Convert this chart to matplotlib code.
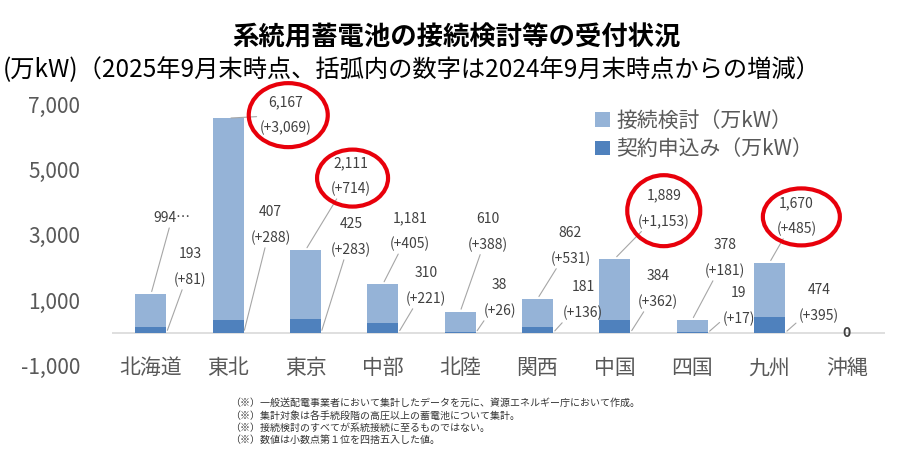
import matplotlib
matplotlib.use('Agg')
import matplotlib.pyplot as plt
from matplotlib.patches import Ellipse
from matplotlib.transforms import IdentityTransform

plt.rcParams['font.family'] = ['Noto Sans CJK JP', 'DejaVu Sans']

# data (万kW)
regions = ['北海道', '東北', '東京', '中部', '北陸', '関西', '中国', '四国', '九州', '沖縄']
study = [994, 6167, 2111, 1181, 610, 862, 1889, 378, 1670, 0]          # 接続検討
study_diff = [None, 3069, 714, 405, 388, 531, 1153, 181, 485, 0]
contract = [193, 407, 425, 310, 38, 181, 384, 19, 474, 0]              # 契約申込み
contract_diff = [81, 288, 283, 221, 26, 136, 362, 17, 395, 0]
yticks = [-1000, 1000, 3000, 5000, 7000]
highlighted = ['東北', '東京', '中国', '九州']

# label offsets in pixels (dx, dy up) from bar top / bar bottom-right
study_off = [(21, 76), (57, 3), (45, 74), (27, 53), (28, 80), (33, 53), (49, 50), (33, 62), (27, 47)]
contract_off = [(24, 66), (27, 108), (30, 96), (28, 47), (24, 35), (30, 33), (28, 44), (31, 27), (34, 30)]
ellipse_geom = {'東北': (60, 3, 79, 64), '東京': (47, 72, 71, 57),
                '中国': (49, 48, 73, 71), '九州': (32, 46, 77, 57)}

LIGHT = '#95b3d7'
DARK = '#4f81bd'
GREY = '#595959'
TXT = '#404040'
LEAD = '#a6a6a6'

fig = plt.figure(figsize=(9.02, 4.63), dpi=100)
ax = fig.add_axes([0.1245, 0.2103, 0.857, 0.5646])

x = list(range(len(regions)))
w = 0.4
b_contract = ax.bar(x, contract, w, color=DARK, label='契約申込み（万kW）')
b_study = ax.bar(x, study, w, bottom=contract, color=LIGHT, label='接続検討（万kW）')

ax.set_xlim(-0.5, len(regions) - 0.5)
ax.set_ylim(-1000, 7000)
ax.axhline(0, color='#d9d9d9', lw=1.2, zorder=0)
for s in ax.spines.values():
    s.set_visible(False)
ax.set_yticks(yticks)
ax.set_yticklabels([f'{v:,}' for v in yticks], fontsize=15, color=GREY)
ax.tick_params(axis='y', length=0, pad=23)
ax.set_xticks(x)
ax.set_xticklabels(regions, fontsize=15, color=GREY)
ax.tick_params(axis='x', length=0, pad=-6)


def fmt(v, d):
    if d is None:
        return f'{v:,}…'
    return f'{v:,}\n(+{d:,})'


lab_kw = dict(textcoords='offset pixels', ha='center', va='center', fontsize=10,
              color=TXT, linespacing=2.0, annotation_clip=False,
              arrowprops=dict(arrowstyle='-', color=LEAD, lw=0.8, shrinkA=0, shrinkB=2))

for i, r in enumerate(regions):
    if study[i] == 0 and contract[i] == 0:
        ax.text(i, 0, '0', ha='center', va='center', fontsize=10, fontweight='bold', color=TXT)
        continue
    top = study[i] + contract[i]
    dx, dy = study_off[i]
    ax.annotate(fmt(study[i], study_diff[i]), xy=(i, top), xytext=(dx, dy), **lab_kw)
    dx, dy = contract_off[i]
    ax.annotate(fmt(contract[i], contract_diff[i]), xy=(i + w / 2, 0), xytext=(dx, dy), **lab_kw)

# red highlight circles around selected labels
for r in highlighted:
    i = regions.index(r)
    top = study[i] + contract[i]
    px, py = ax.transData.transform((i, top))
    dx, dy, ew, eh = ellipse_geom[r]
    ax.add_patch(Ellipse((px + dx, py + dy), ew, eh, transform=IdentityTransform(),
                         fill=False, ec='#e8000b', lw=3, clip_on=False, zorder=5))

leg = ax.legend(handles=[b_study, b_contract], loc='upper left', bbox_to_anchor=(595 / 902, 1 - 110 / 463),
                bbox_transform=fig.transFigure, frameon=False, fontsize=15, labelcolor=GREY,
                handlelength=0.72, handleheight=0.72, handletextpad=0.3, labelspacing=0.3,
                borderpad=0, borderaxespad=0)

fig.text(0.506, 1 - 38 / 463, '系統用蓄電池の接続検討等の受付状況', ha='center', va='center',
         fontsize=19, fontweight='bold', color='black')
fig.text(3 / 902, 1 - 70 / 463, '(万kW)（2025年9月末時点、括弧内の数字は2024年9月末時点からの増減）',
         ha='left', va='center', fontsize=17.5, color='black')

notes = ['（※）一般送配電事業者において集計したデータを元に、資源エネルギー庁において作成。',
         '（※）集計対象は各手続段階の高圧以上の蓄電池について集計。',
         '（※）接続検討のすべてが系統接続に至るものではない。',
         '（※）数値は小数点第１位を四捨五入した値。']
fig.text(230 / 902, 1 - 398 / 463, '\n'.join(notes), ha='left', va='top', fontsize=7.2,
         color='#333333', linespacing=1.3)

fig.savefig('out.png', dpi=100)
